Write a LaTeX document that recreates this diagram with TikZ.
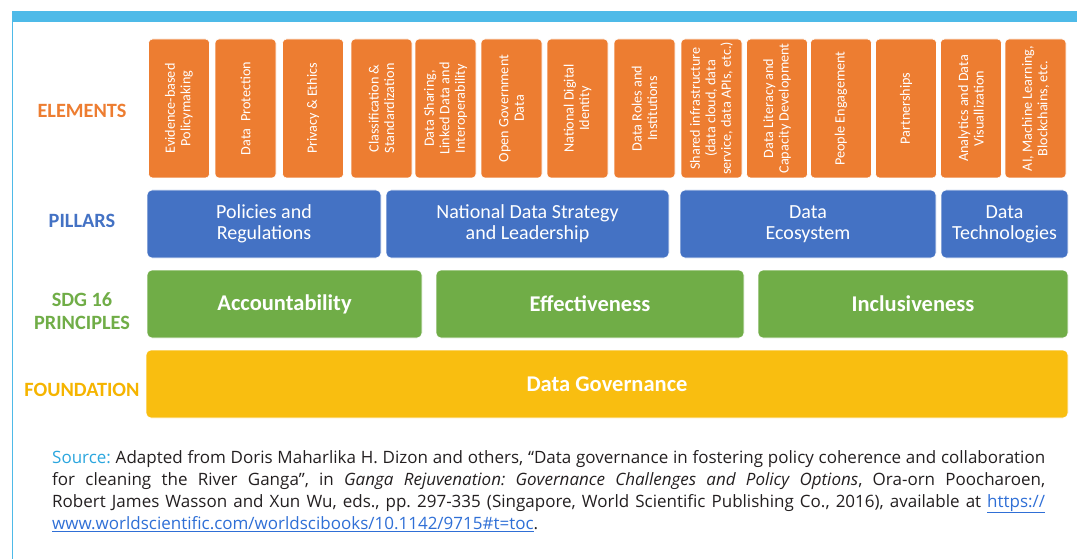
\documentclass[tikz,border=0pt]{standalone}
\usepackage{fontspec}
\setmainfont{Carlito}
\newfontfamily\srcfont{Open Sans}
\frenchspacing
\definecolor{cOrange}{HTML}{ED7D31}
\definecolor{cBlue}{HTML}{4472C4}
\definecolor{cGreen}{HTML}{70AD47}
\definecolor{cYellow}{HTML}{F9BE10}
\definecolor{cLabelY}{HTML}{F5B400}
\definecolor{cBar}{HTML}{4EBAE8}
\definecolor{cSrc}{HTML}{2BA6DE}
\definecolor{cLink}{HTML}{2F6FD6}
\definecolor{cText}{HTML}{231F20}
\tikzset{
  obox/.style={fill=cOrange, draw=white, line width=0.6pt, rounded corners=4pt, rotate=90,
    minimum width=139pt, minimum height=61pt, inner sep=1pt, align=center, text=white,
    font=\fontsize{14.2}{15.5}\selectfont},
  pbox/.style={fill=cBlue, draw=white, line width=0.6pt, rounded corners=5pt, minimum height=68pt,
    inner sep=1pt, align=center, text=white, font=\fontsize{20}{21}\selectfont},
  gbox/.style={fill=cGreen, draw=white, line width=0.6pt, rounded corners=5pt, minimum height=68pt,
    inner sep=1pt, align=center, text=white, font=\bfseries\fontsize{22.5}{24}\selectfont},
  ybox/.style={fill=cYellow, draw=white, line width=0.6pt, rounded corners=5pt, minimum height=68pt,
    inner sep=1pt, align=center, text=white, font=\bfseries\fontsize{22.5}{24}\selectfont},
  rowlabel/.style={align=center, font=\bfseries\fontsize{20.3}{23}\selectfont, inner sep=0pt},
}
\begin{document}
\begin{tikzpicture}[x=1pt, y=-1pt]
\useasboundingbox (0,0) rectangle (1077,559);
% frame
\fill[cBar] (12,11) rectangle (1077,22);
\fill[cBar] (11.5,22) rectangle (13,559);
% row labels
\node[rowlabel, text=cOrange] (lE) at (82,111) {ELEMENTS};
\node[rowlabel, text=cBlue] (lP) at (82,221) {PILLARS};
\node[rowlabel, text=cGreen] (lS) at (82,311.5) {SDG 16\\PRINCIPLES};
\node[rowlabel, text=cLabelY] (lF) at (82,390) {FOUNDATION};
% elements
\node[obox] (e1) at (179,108.5) {Evidence-based\\Policymaking};
\node[obox] (e2) at (245.5,108.5) {Data\ \ Protection};
\node[obox] (e3) at (313,108.5) {Privacy \& Ethics};
\node[obox] (e4) at (381.5,108.5) {Classification \&\\Standardization};
\node[obox] (e5) at (445.5,108.5) {Data Sharing,\\Linked Data and\\Interoperability};
\node[obox] (e6) at (511.5,108.5) {Open Government\\Data};
\node[obox] (e7) at (577.5,108.5) {National Digital\\Identity};
\node[obox] (e8) at (644.5,108.5) {Data Roles and\\Institutions};
\node[obox] (e9) at (711.5,108.5) {Shared infrastructure\\(data cloud, data\\service, data APIs, etc.)};
\node[obox] (e10) at (777,108.5) {Data Literacy and\\Capacity Development};
\node[obox] (e11) at (841,108.5) {People Engagement};
\node[obox] (e12) at (906,108.5) {Partnerships};
\node[obox] (e13) at (971,108.5) {Analytics and Data\\Visuallization};
\node[obox] (e14) at (1035.5,108.5) {AI, Machine Learning,\\Blockchains, etc.};
% pillars
\node[pbox, minimum width=234pt] (p1) at (264,224) {Policies and\\Regulations};
\node[pbox, minimum width=283pt] (p2) at (527.5,224) {National Data Strategy\\and Leadership};
\node[pbox, minimum width=256pt] (p3) at (808,224) {Data\\Ecosystem};
\node[pbox, minimum width=127pt] (p4) at (1004.5,224) {Data\\Technologies};
% principles
\node[gbox, minimum width=275pt] (g1) at (284.5,304) {Accountability};
\node[gbox, minimum width=308pt] (g2) at (590,304) {Effectiveness};
\node[gbox, minimum width=310pt] (g3) at (913,304) {Inclusiveness};
% foundation
\node[ybox, minimum width=922pt] (f1) at (607,384) {Data Governance};
% source
\node[anchor=north west, inner sep=0pt, text width=993pt, align=justify, text=cText,
  font=\srcfont\fontsize{17}{22}\selectfont] (src) at (52,450) {%
{\color{cSrc}Source:} Adapted from Doris Maharlika H. Dizon and others, “Data governance in fostering policy coherence and collaboration\linebreak
for cleaning the River Ganga”, in \textit{Ganga Rejuvenation: Governance Challenges and Policy Options}, Ora-orn Poocharoen,\linebreak
Robert James Wasson and Xun Wu, eds., pp. 297-335 (Singapore, World Scientific Publishing Co., 2016), available at {\color{cLink}\underline{https://}}\linebreak
{\color{cLink}\underline{www.worldscientific.com/worldscibooks/10.1142/9715\#t=toc}}.};
\end{tikzpicture}
\end{document}
